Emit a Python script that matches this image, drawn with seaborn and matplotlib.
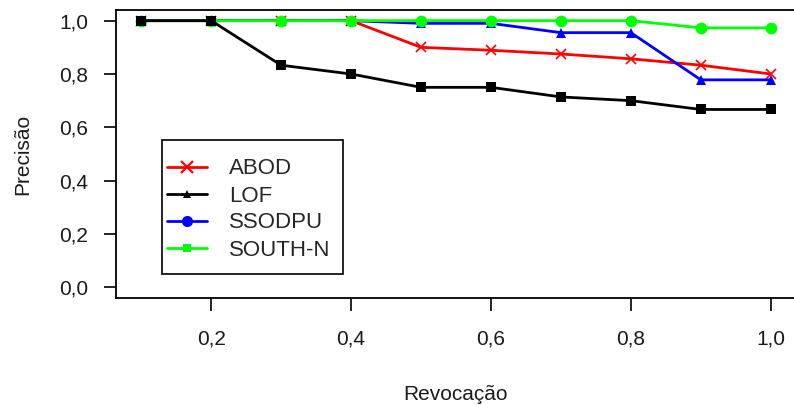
import matplotlib
matplotlib.use("Agg")
import matplotlib.pyplot as plt
from matplotlib.lines import Line2D
from matplotlib.patches import Rectangle
import seaborn as sns
import pandas as pd

recall = [0.1, 0.2, 0.3, 0.4, 0.5, 0.6, 0.7, 0.8, 0.9, 1.0]
abod = [1.0, 1.0, 1.0, 1.0, 0.9, 0.889, 0.875, 0.857, 0.833, 0.8]
lof = [1.0, 1.0, 0.833, 0.8, 0.75, 0.75, 0.714, 0.7, 0.667, 0.667]
ssodpu = [1.0, 1.0, 1.0, 1.0, 0.99, 0.99, 0.955, 0.955, 0.778, 0.778]
southn = [1.0, 1.0, 1.0, 1.0, 1.0, 1.0, 1.0, 1.0, 0.973, 0.973]
legend_labels = ["ABOD", "LOF", "SSODPU", "SOUTH-N"]
xticks = [0.2, 0.4, 0.6, 0.8, 1.0]
yticks = [0.0, 0.2, 0.4, 0.6, 0.8, 1.0]

sns.set_theme(style="white")
plt.rcParams["font.family"] = ["Liberation Sans", "DejaVu Sans"]

W, H = 794, 405
fig = plt.figure(figsize=(W / 100, H / 100), dpi=100)
ax = fig.add_axes([116 / W, (H - 298) / H, (796 - 116) / W, (298 - 10) / H])

# draw order: red, blue, green, black
series = [
    (abod, "#FF0000", "x", 7),
    (ssodpu, "#0000FF", "^", 7),
    (southn, "#00FF00", "o", 8.5),
    (lof, "#000000", "s", 7),
]
for vals, col, mk, ms in series:
    df = pd.DataFrame({"x": recall, "y": vals})
    kw = dict(marker=mk, markersize=ms, color=col, linewidth=2)
    if mk == "x":
        kw.update(markeredgewidth=1.2, markeredgecolor=col)
    else:
        kw.update(markeredgewidth=0, markerfacecolor=col)
    sns.lineplot(data=df, x="x", y="y", ax=ax, **kw)

ax.set_xlim(0.064, 1.036)
ax.set_ylim(-0.04, 1.04)
ax.set_xticks(xticks)
ax.set_yticks(yticks)
ax.set_xticklabels([f"{t:.1f}".replace(".", ",") for t in xticks], fontsize=15)
ax.set_yticklabels([f"{t:.1f}".replace(".", ",") for t in yticks], fontsize=15)
ax.tick_params(axis="both", direction="out", width=1.2, color="black",
               bottom=True, left=True, labelcolor="#1a1a1a")
ax.tick_params(axis="x", length=9.5, pad=13)
ax.tick_params(axis="y", length=8.6, pad=11.5)
for s in ax.spines.values():
    s.set_visible(True)
    s.set_color("black")
    s.set_linewidth(1.3)
ax.set_xlabel("Revocação", fontsize=15, labelpad=26.5, color="#1a1a1a")
ax.set_ylabel("Precisão", fontsize=15, labelpad=19, color="#1a1a1a")

# legend box
box = Rectangle((162 / W, (H - 274) / H), (343 - 162) / W, (274 - 140) / H,
                transform=fig.transFigure, facecolor="white", edgecolor="black",
                linewidth=1.2, zorder=4, clip_on=False)
ax.add_patch(box)

handles = [
    Line2D([], [], color="#FF0000", lw=2, marker="x", ms=8, mew=1.6),
    Line2D([], [], color="#000000", lw=2, marker="^", ms=6, mew=0),
    Line2D([], [], color="#0000FF", lw=2, marker="o", ms=8, mew=0),
    Line2D([], [], color="#00FF00", lw=2, marker="s", ms=5.5, mew=0),
]
leg = ax.legend(handles, legend_labels, loc="center left",
                bbox_to_anchor=(167 / W, (H - 209.5) / H),
                bbox_transform=fig.transFigure, borderaxespad=0,
                fontsize=16, frameon=False, handlelength=1.8,
                handletextpad=0.98, labelspacing=0.27, borderpad=0)
leg.set_zorder(5)

fig.savefig("out.png", dpi=100)
